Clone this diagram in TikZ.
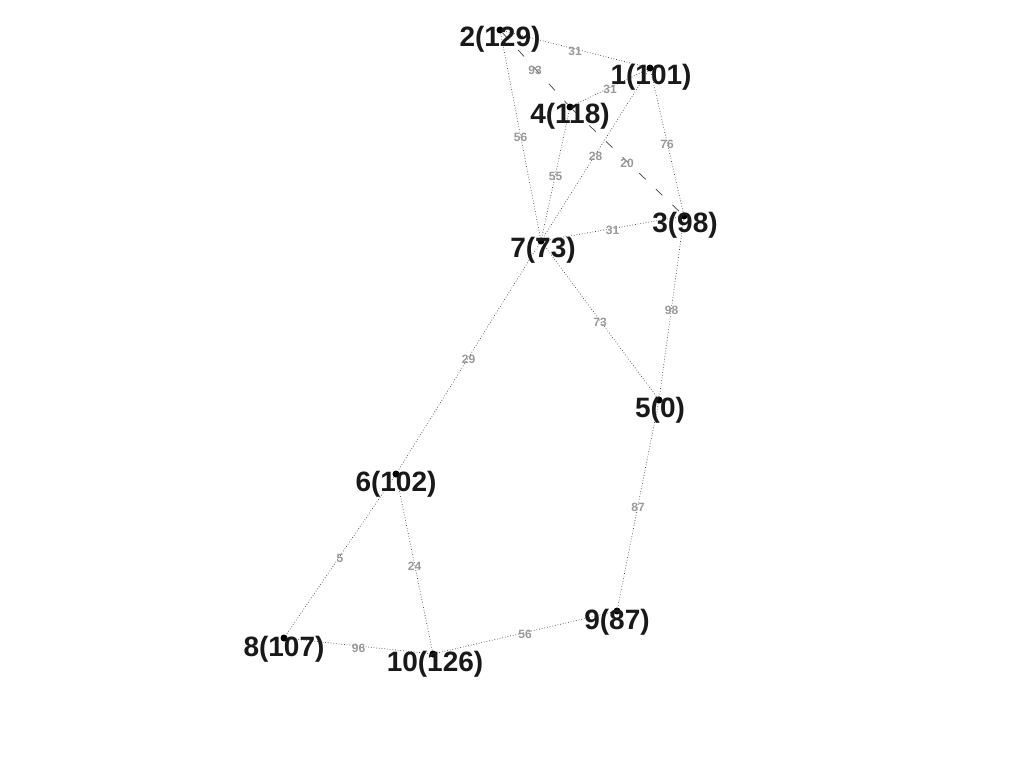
\documentclass[tikz,border=0pt]{standalone}
\usepackage{fontspec}
\setmainfont{Liberation Sans}
\begin{document}
\begin{tikzpicture}[x=1pt,y=-1pt,
  vdot/.style={circle,fill=black,inner sep=0pt,minimum size=7pt},
  vlabel/.style={font=\bfseries\fontsize{28}{28}\selectfont,inner sep=0pt,text=black!90,yshift=-3pt},
  link/.style={dotted,line width=0.7pt,draw=black!75},
  dlink/.style={dash pattern=on 9pt off 14pt,line width=0.7pt,draw=black!75},
  wt/.style={midway,yshift=-2pt,font=\bfseries\fontsize{12}{12}\selectfont,text=black!40,inner sep=0pt}]
\useasboundingbox (0,0) rectangle (1024,768);
% vertices
\node[vdot] (n1) at (650,68) {};
\node[vdot] (n2) at (500,30) {};
\node[vdot] (n3) at (684,216) {};
\node[vdot] (n4) at (570,107) {};
\node[vdot] (n5) at (659,400) {};
\node[vdot] (n6) at (396,474) {};
\node[vdot] (n7) at (541,241) {};
\node[vdot] (n8) at (284,638) {};
\node[vdot] (n9) at (617,611) {};
\node[vdot] (n10) at (433,654) {};
% edges
\draw[link] (n2) -- (n1) node[wt] {31};
\draw[dlink] (n2) -- (n4) node[wt] {93};
\draw[link] (n1) -- (n4) node[wt] {31};
\draw[link] (n2) -- (n7) node[wt] {56};
\draw[link] (n4) -- (n7) node[wt] {55};
\draw[link] (n1) -- (n7) node[wt] {28};
\draw[dlink] (n4) -- (n3) node[wt] {20};
\draw[link] (n1) -- (n3) node[wt] {76};
\draw[link] (n7) -- (n3) node[wt] {31};
\draw[link] (n7) -- (n5) node[wt] {73};
\draw[link] (n3) -- (n5) node[wt] {98};
\draw[link] (n7) -- (n6) node[wt] {29};
\draw[link] (n5) -- (n9) node[wt] {87};
\draw[link] (n6) -- (n8) node[wt] {5};
\draw[link] (n6) -- (n10) node[wt] {24};
\draw[link] (n8) -- (n10) node[wt] {96};
\draw[link] (n10) -- (n9) node[wt] {56};
% labels
\node[vlabel] (l1) at (651,74) {1(101)};
\node[vlabel] (l2) at (500,36) {2(129)};
\node[vlabel] (l3) at (685,222) {3(98)};
\node[vlabel] (l4) at (570,113) {4(118)};
\node[vlabel] (l5) at (660,407) {5(0)};
\node[vlabel] (l6) at (396,481) {6(102)};
\node[vlabel] (l7) at (543,247) {7(73)};
\node[vlabel] (l8) at (284,646) {8(107)};
\node[vlabel] (l9) at (617,619) {9(87)};
\node[vlabel] (l10) at (435,661) {10(126)};
\end{tikzpicture}
\end{document}
